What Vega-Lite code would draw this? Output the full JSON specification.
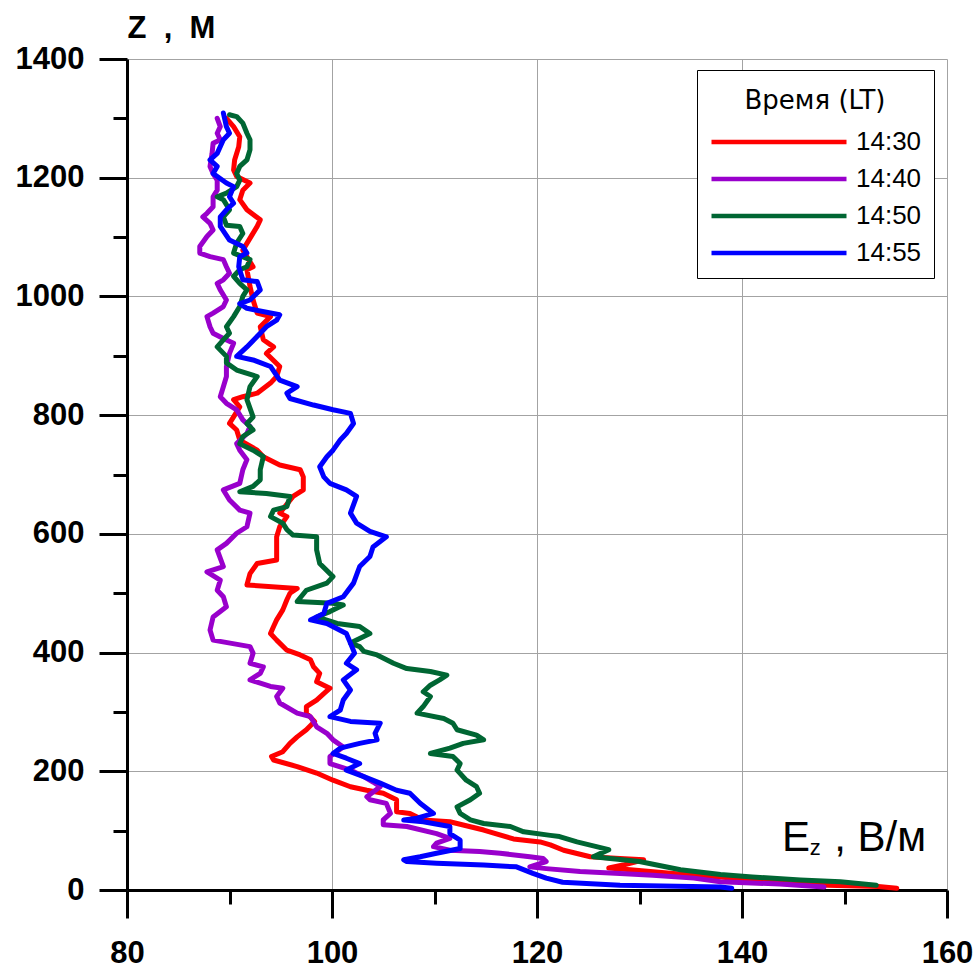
{
"$schema": "https://vega.github.io/schema/vega-lite/v6.json",
"width": 820,
"height": 831,
"autosize": {"type": "none"},
"padding": {"left": 127, "top": 59, "right": 31, "bottom": 79},
"background": "white",
"config": {"view": {"stroke": null}, "font": "Liberation Sans", "axis": {"tickCap": "butt"}},
"datasets": {
"profiles": [
{"t":"14:30","e":155.1,"z":3},{"t":"14:30","e":153.3,"z":6},{"t":"14:30","e":148.3,"z":8},{"t":"14:30","e":144.7,"z":11},{"t":"14:30","e":141.5,"z":16},{"t":"14:30","e":137.9,"z":22},{"t":"14:30","e":133.3,"z":28},{"t":"14:30","e":129.1,"z":34},{"t":"14:30","e":127.0,"z":37},{"t":"14:30","e":128.4,"z":42},{"t":"14:30","e":130.4,"z":51},{"t":"14:30","e":128.1,"z":53},{"t":"14:30","e":125.2,"z":56},{"t":"14:30","e":122.6,"z":67},{"t":"14:30","e":121.3,"z":76},{"t":"14:30","e":120.3,"z":81},{"t":"14:30","e":117.7,"z":86},{"t":"14:30","e":114.8,"z":101},{"t":"14:30","e":111.5,"z":115},{"t":"14:30","e":108.9,"z":118},{"t":"14:30","e":107.6,"z":129},{"t":"14:30","e":106.3,"z":132},{"t":"14:30","e":106.3,"z":152},{"t":"14:30","e":105.0,"z":163},{"t":"14:30","e":103.4,"z":168},{"t":"14:30","e":101.8,"z":174},{"t":"14:30","e":100.1,"z":185},{"t":"14:30","e":98.5,"z":197},{"t":"14:30","e":96.6,"z":208},{"t":"14:30","e":94.3,"z":219},{"t":"14:30","e":94.1,"z":225},{"t":"14:30","e":95.2,"z":233},{"t":"14:30","e":95.9,"z":247},{"t":"14:30","e":96.6,"z":258},{"t":"14:30","e":97.5,"z":270},{"t":"14:30","e":98.3,"z":284},{"t":"14:30","e":97.5,"z":298},{"t":"14:30","e":97.5,"z":309},{"t":"14:30","e":98.5,"z":320},{"t":"14:30","e":99.2,"z":331},{"t":"14:30","e":99.8,"z":340},{"t":"14:30","e":98.5,"z":351},{"t":"14:30","e":98.8,"z":365},{"t":"14:30","e":98.2,"z":376},{"t":"14:30","e":97.9,"z":388},{"t":"14:30","e":96.9,"z":396},{"t":"14:30","e":95.6,"z":404},{"t":"14:30","e":94.6,"z":421},{"t":"14:30","e":94.0,"z":432},{"t":"14:30","e":94.3,"z":444},{"t":"14:30","e":94.6,"z":455},{"t":"14:30","e":95.2,"z":472},{"t":"14:30","e":95.6,"z":489},{"t":"14:30","e":95.9,"z":500},{"t":"14:30","e":96.6,"z":508},{"t":"14:30","e":91.7,"z":514},{"t":"14:30","e":92.0,"z":533},{"t":"14:30","e":92.7,"z":550},{"t":"14:30","e":94.6,"z":556},{"t":"14:30","e":94.6,"z":595},{"t":"14:30","e":94.9,"z":612},{"t":"14:30","e":95.6,"z":629},{"t":"14:30","e":94.9,"z":635},{"t":"14:30","e":96.2,"z":663},{"t":"14:30","e":97.2,"z":674},{"t":"14:30","e":97.2,"z":696},{"t":"14:30","e":96.9,"z":708},{"t":"14:30","e":94.9,"z":716},{"t":"14:30","e":93.3,"z":730},{"t":"14:30","e":92.7,"z":741},{"t":"14:30","e":91.0,"z":758},{"t":"14:30","e":90.7,"z":775},{"t":"14:30","e":90.0,"z":786},{"t":"14:30","e":90.4,"z":797},{"t":"14:30","e":91.0,"z":814},{"t":"14:30","e":90.4,"z":826},{"t":"14:30","e":91.3,"z":831},{"t":"14:30","e":92.7,"z":837},{"t":"14:30","e":94.0,"z":854},{"t":"14:30","e":94.6,"z":865},{"t":"14:30","e":94.9,"z":882},{"t":"14:30","e":93.6,"z":904},{"t":"14:30","e":94.3,"z":915},{"t":"14:30","e":93.3,"z":927},{"t":"14:30","e":93.0,"z":949},{"t":"14:30","e":94.0,"z":966},{"t":"14:30","e":92.7,"z":972},{"t":"14:30","e":92.3,"z":994},{"t":"14:30","e":92.0,"z":1017},{"t":"14:30","e":91.7,"z":1045},{"t":"14:30","e":92.3,"z":1050},{"t":"14:30","e":91.3,"z":1078},{"t":"14:30","e":92.7,"z":1118},{"t":"14:30","e":93.0,"z":1129},{"t":"14:30","e":91.7,"z":1146},{"t":"14:30","e":91.0,"z":1163},{"t":"14:30","e":91.3,"z":1179},{"t":"14:30","e":92.0,"z":1191},{"t":"14:30","e":90.7,"z":1202},{"t":"14:30","e":90.4,"z":1213},{"t":"14:30","e":90.5,"z":1230},{"t":"14:30","e":90.9,"z":1252},{"t":"14:30","e":91.0,"z":1269},{"t":"14:30","e":90.4,"z":1286},{"t":"14:30","e":89.7,"z":1300},
{"t":"14:40","e":148.0,"z":5},{"t":"14:40","e":143.7,"z":10},{"t":"14:40","e":137.9,"z":14},{"t":"14:40","e":135.3,"z":20},{"t":"14:40","e":131.3,"z":25},{"t":"14:40","e":128.1,"z":28},{"t":"14:40","e":124.2,"z":31},{"t":"14:40","e":120.9,"z":36},{"t":"14:40","e":119.3,"z":39},{"t":"14:40","e":120.9,"z":48},{"t":"14:40","e":120.6,"z":53},{"t":"14:40","e":119.3,"z":56},{"t":"14:40","e":116.4,"z":62},{"t":"14:40","e":114.4,"z":65},{"t":"14:40","e":111.5,"z":67},{"t":"14:40","e":109.9,"z":73},{"t":"14:40","e":110.2,"z":79},{"t":"14:40","e":111.5,"z":87},{"t":"14:40","e":110.2,"z":95},{"t":"14:40","e":107.3,"z":107},{"t":"14:40","e":105.0,"z":110},{"t":"14:40","e":105.0,"z":118},{"t":"14:40","e":105.7,"z":129},{"t":"14:40","e":105.3,"z":146},{"t":"14:40","e":103.7,"z":152},{"t":"14:40","e":103.4,"z":157},{"t":"14:40","e":104.7,"z":174},{"t":"14:40","e":104.0,"z":182},{"t":"14:40","e":103.1,"z":191},{"t":"14:40","e":101.8,"z":202},{"t":"14:40","e":99.8,"z":213},{"t":"14:40","e":99.8,"z":225},{"t":"14:40","e":101.1,"z":241},{"t":"14:40","e":100.1,"z":253},{"t":"14:40","e":99.5,"z":264},{"t":"14:40","e":98.5,"z":275},{"t":"14:40","e":97.9,"z":292},{"t":"14:40","e":96.6,"z":298},{"t":"14:40","e":94.9,"z":315},{"t":"14:40","e":94.6,"z":326},{"t":"14:40","e":95.2,"z":340},{"t":"14:40","e":94.0,"z":343},{"t":"14:40","e":92.0,"z":354},{"t":"14:40","e":93.0,"z":365},{"t":"14:40","e":93.3,"z":376},{"t":"14:40","e":92.0,"z":382},{"t":"14:40","e":92.3,"z":399},{"t":"14:40","e":92.0,"z":410},{"t":"14:40","e":88.4,"z":421},{"t":"14:40","e":88.1,"z":438},{"t":"14:40","e":88.4,"z":460},{"t":"14:40","e":89.7,"z":477},{"t":"14:40","e":89.4,"z":494},{"t":"14:40","e":88.8,"z":505},{"t":"14:40","e":89.1,"z":522},{"t":"14:40","e":87.8,"z":536},{"t":"14:40","e":89.4,"z":545},{"t":"14:40","e":88.8,"z":573},{"t":"14:40","e":89.7,"z":584},{"t":"14:40","e":90.7,"z":601},{"t":"14:40","e":91.7,"z":612},{"t":"14:40","e":92.0,"z":635},{"t":"14:40","e":91.0,"z":640},{"t":"14:40","e":90.0,"z":657},{"t":"14:40","e":89.4,"z":674},{"t":"14:40","e":91.0,"z":685},{"t":"14:40","e":91.3,"z":708},{"t":"14:40","e":91.7,"z":725},{"t":"14:40","e":91.0,"z":741},{"t":"14:40","e":90.7,"z":752},{"t":"14:40","e":91.7,"z":769},{"t":"14:40","e":92.0,"z":781},{"t":"14:40","e":91.3,"z":792},{"t":"14:40","e":90.7,"z":809},{"t":"14:40","e":89.7,"z":820},{"t":"14:40","e":89.1,"z":831},{"t":"14:40","e":89.4,"z":848},{"t":"14:40","e":89.7,"z":865},{"t":"14:40","e":89.7,"z":882},{"t":"14:40","e":90.0,"z":904},{"t":"14:40","e":90.4,"z":921},{"t":"14:40","e":89.4,"z":929},{"t":"14:40","e":88.4,"z":938},{"t":"14:40","e":88.1,"z":949},{"t":"14:40","e":87.8,"z":966},{"t":"14:40","e":88.4,"z":972},{"t":"14:40","e":89.4,"z":983},{"t":"14:40","e":89.7,"z":994},{"t":"14:40","e":89.1,"z":1011},{"t":"14:40","e":88.8,"z":1022},{"t":"14:40","e":89.4,"z":1028},{"t":"14:40","e":90.0,"z":1039},{"t":"14:40","e":89.7,"z":1050},{"t":"14:40","e":89.4,"z":1062},{"t":"14:40","e":88.1,"z":1067},{"t":"14:40","e":87.1,"z":1073},{"t":"14:40","e":87.1,"z":1084},{"t":"14:40","e":87.8,"z":1101},{"t":"14:40","e":88.4,"z":1112},{"t":"14:40","e":88.1,"z":1123},{"t":"14:40","e":87.4,"z":1134},{"t":"14:40","e":87.8,"z":1140},{"t":"14:40","e":88.4,"z":1151},{"t":"14:40","e":88.4,"z":1168},{"t":"14:40","e":88.8,"z":1179},{"t":"14:40","e":88.8,"z":1196},{"t":"14:40","e":88.4,"z":1207},{"t":"14:40","e":88.1,"z":1219},{"t":"14:40","e":88.3,"z":1241},{"t":"14:40","e":88.4,"z":1258},{"t":"14:40","e":89.1,"z":1264},{"t":"14:40","e":88.8,"z":1275},{"t":"14:40","e":89.1,"z":1286},{"t":"14:40","e":88.8,"z":1300},
{"t":"14:50","e":153.1,"z":8},{"t":"14:50","e":149.6,"z":14},{"t":"14:50","e":145.7,"z":17},{"t":"14:50","e":141.0,"z":22},{"t":"14:50","e":137.9,"z":26},{"t":"14:50","e":134.0,"z":34},{"t":"14:50","e":130.0,"z":48},{"t":"14:50","e":125.5,"z":56},{"t":"14:50","e":127.0,"z":68},{"t":"14:50","e":123.9,"z":81},{"t":"14:50","e":122.2,"z":90},{"t":"14:50","e":121.3,"z":92},{"t":"14:50","e":118.7,"z":98},{"t":"14:50","e":117.4,"z":107},{"t":"14:50","e":114.8,"z":112},{"t":"14:50","e":113.5,"z":118},{"t":"14:50","e":112.5,"z":129},{"t":"14:50","e":112.2,"z":140},{"t":"14:50","e":113.5,"z":152},{"t":"14:50","e":114.4,"z":163},{"t":"14:50","e":114.1,"z":174},{"t":"14:50","e":113.1,"z":185},{"t":"14:50","e":112.2,"z":202},{"t":"14:50","e":112.5,"z":213},{"t":"14:50","e":111.8,"z":225},{"t":"14:50","e":109.6,"z":230},{"t":"14:50","e":111.5,"z":239},{"t":"14:50","e":112.8,"z":247},{"t":"14:50","e":114.8,"z":253},{"t":"14:50","e":114.1,"z":261},{"t":"14:50","e":112.2,"z":270},{"t":"14:50","e":111.8,"z":281},{"t":"14:50","e":110.9,"z":289},{"t":"14:50","e":108.3,"z":298},{"t":"14:50","e":108.9,"z":309},{"t":"14:50","e":109.6,"z":326},{"t":"14:50","e":108.9,"z":334},{"t":"14:50","e":109.6,"z":345},{"t":"14:50","e":110.5,"z":354},{"t":"14:50","e":111.2,"z":362},{"t":"14:50","e":109.6,"z":368},{"t":"14:50","e":107.3,"z":373},{"t":"14:50","e":106.0,"z":382},{"t":"14:50","e":104.4,"z":396},{"t":"14:50","e":103.1,"z":402},{"t":"14:50","e":102.7,"z":410},{"t":"14:50","e":101.8,"z":416},{"t":"14:50","e":103.1,"z":427},{"t":"14:50","e":103.7,"z":432},{"t":"14:50","e":102.7,"z":444},{"t":"14:50","e":100.5,"z":449},{"t":"14:50","e":98.5,"z":460},{"t":"14:50","e":99.8,"z":469},{"t":"14:50","e":101.1,"z":480},{"t":"14:50","e":100.1,"z":483},{"t":"14:50","e":96.6,"z":486},{"t":"14:50","e":97.5,"z":505},{"t":"14:50","e":99.5,"z":517},{"t":"14:50","e":100.1,"z":528},{"t":"14:50","e":98.8,"z":550},{"t":"14:50","e":98.5,"z":573},{"t":"14:50","e":98.5,"z":595},{"t":"14:50","e":96.2,"z":598},{"t":"14:50","e":95.6,"z":607},{"t":"14:50","e":95.2,"z":618},{"t":"14:50","e":94.0,"z":629},{"t":"14:50","e":94.3,"z":640},{"t":"14:50","e":95.6,"z":646},{"t":"14:50","e":95.9,"z":663},{"t":"14:50","e":93.6,"z":668},{"t":"14:50","e":91.0,"z":671},{"t":"14:50","e":92.3,"z":680},{"t":"14:50","e":93.0,"z":691},{"t":"14:50","e":93.0,"z":708},{"t":"14:50","e":93.3,"z":730},{"t":"14:50","e":92.3,"z":741},{"t":"14:50","e":91.0,"z":752},{"t":"14:50","e":91.3,"z":764},{"t":"14:50","e":92.3,"z":775},{"t":"14:50","e":91.7,"z":786},{"t":"14:50","e":92.3,"z":797},{"t":"14:50","e":91.7,"z":826},{"t":"14:50","e":92.0,"z":848},{"t":"14:50","e":92.7,"z":865},{"t":"14:50","e":90.7,"z":876},{"t":"14:50","e":89.7,"z":888},{"t":"14:50","e":89.7,"z":899},{"t":"14:50","e":88.8,"z":915},{"t":"14:50","e":89.4,"z":927},{"t":"14:50","e":90.0,"z":938},{"t":"14:50","e":89.7,"z":949},{"t":"14:50","e":90.4,"z":966},{"t":"14:50","e":91.0,"z":983},{"t":"14:50","e":91.3,"z":1000},{"t":"14:50","e":91.7,"z":1011},{"t":"14:50","e":91.0,"z":1022},{"t":"14:50","e":90.4,"z":1034},{"t":"14:50","e":91.0,"z":1045},{"t":"14:50","e":91.7,"z":1050},{"t":"14:50","e":92.0,"z":1062},{"t":"14:50","e":90.4,"z":1073},{"t":"14:50","e":90.7,"z":1090},{"t":"14:50","e":91.3,"z":1106},{"t":"14:50","e":91.0,"z":1118},{"t":"14:50","e":89.7,"z":1120},{"t":"14:50","e":89.4,"z":1134},{"t":"14:50","e":90.0,"z":1146},{"t":"14:50","e":89.4,"z":1163},{"t":"14:50","e":88.8,"z":1168},{"t":"14:50","e":89.7,"z":1174},{"t":"14:50","e":90.7,"z":1185},{"t":"14:50","e":91.0,"z":1196},{"t":"14:50","e":90.7,"z":1207},{"t":"14:50","e":91.0,"z":1219},{"t":"14:50","e":91.7,"z":1230},{"t":"14:50","e":92.0,"z":1247},{"t":"14:50","e":92.0,"z":1264},{"t":"14:50","e":91.7,"z":1275},{"t":"14:50","e":91.3,"z":1292},{"t":"14:50","e":90.7,"z":1303},{"t":"14:50","e":90.0,"z":1306},
{"t":"14:55","e":139.0,"z":3},{"t":"14:55","e":137.9,"z":5},{"t":"14:55","e":128.1,"z":8},{"t":"14:55","e":122.5,"z":13},{"t":"14:55","e":120.9,"z":20},{"t":"14:55","e":119.6,"z":28},{"t":"14:55","e":118.0,"z":39},{"t":"14:55","e":114.8,"z":42},{"t":"14:55","e":110.2,"z":45},{"t":"14:55","e":107.3,"z":48},{"t":"14:55","e":107.0,"z":51},{"t":"14:55","e":108.6,"z":56},{"t":"14:55","e":110.2,"z":62},{"t":"14:55","e":112.5,"z":70},{"t":"14:55","e":112.5,"z":84},{"t":"14:55","e":111.5,"z":95},{"t":"14:55","e":111.5,"z":107},{"t":"14:55","e":108.9,"z":115},{"t":"14:55","e":107.0,"z":118},{"t":"14:55","e":108.3,"z":121},{"t":"14:55","e":109.9,"z":129},{"t":"14:55","e":108.6,"z":146},{"t":"14:55","e":107.6,"z":163},{"t":"14:55","e":106.3,"z":168},{"t":"14:55","e":104.7,"z":180},{"t":"14:55","e":103.1,"z":191},{"t":"14:55","e":101.4,"z":202},{"t":"14:55","e":102.7,"z":213},{"t":"14:55","e":101.4,"z":222},{"t":"14:55","e":100.1,"z":230},{"t":"14:55","e":100.8,"z":239},{"t":"14:55","e":102.7,"z":247},{"t":"14:55","e":104.4,"z":253},{"t":"14:55","e":104.2,"z":264},{"t":"14:55","e":104.7,"z":281},{"t":"14:55","e":101.8,"z":284},{"t":"14:55","e":99.8,"z":292},{"t":"14:55","e":100.8,"z":303},{"t":"14:55","e":101.1,"z":320},{"t":"14:55","e":101.8,"z":337},{"t":"14:55","e":101.1,"z":354},{"t":"14:55","e":102.4,"z":371},{"t":"14:55","e":101.4,"z":382},{"t":"14:55","e":102.2,"z":399},{"t":"14:55","e":101.8,"z":416},{"t":"14:55","e":101.4,"z":432},{"t":"14:55","e":99.5,"z":449},{"t":"14:55","e":97.9,"z":455},{"t":"14:55","e":99.2,"z":466},{"t":"14:55","e":99.5,"z":483},{"t":"14:55","e":101.1,"z":494},{"t":"14:55","e":102.1,"z":517},{"t":"14:55","e":102.7,"z":545},{"t":"14:55","e":103.7,"z":562},{"t":"14:55","e":104.0,"z":578},{"t":"14:55","e":105.3,"z":595},{"t":"14:55","e":103.7,"z":604},{"t":"14:55","e":102.4,"z":618},{"t":"14:55","e":101.8,"z":635},{"t":"14:55","e":102.4,"z":663},{"t":"14:55","e":101.4,"z":674},{"t":"14:55","e":99.8,"z":685},{"t":"14:55","e":99.2,"z":696},{"t":"14:55","e":98.8,"z":713},{"t":"14:55","e":99.5,"z":730},{"t":"14:55","e":100.1,"z":741},{"t":"14:55","e":100.8,"z":758},{"t":"14:55","e":101.4,"z":769},{"t":"14:55","e":102.1,"z":786},{"t":"14:55","e":101.8,"z":803},{"t":"14:55","e":100.1,"z":809},{"t":"14:55","e":98.2,"z":817},{"t":"14:55","e":95.9,"z":828},{"t":"14:55","e":95.6,"z":837},{"t":"14:55","e":96.6,"z":848},{"t":"14:55","e":94.9,"z":859},{"t":"14:55","e":94.0,"z":882},{"t":"14:55","e":92.3,"z":893},{"t":"14:55","e":90.7,"z":899},{"t":"14:55","e":91.7,"z":915},{"t":"14:55","e":93.0,"z":938},{"t":"14:55","e":93.6,"z":949},{"t":"14:55","e":94.6,"z":960},{"t":"14:55","e":94.9,"z":969},{"t":"14:55","e":94.0,"z":972},{"t":"14:55","e":91.7,"z":980},{"t":"14:55","e":91.0,"z":988},{"t":"14:55","e":92.0,"z":994},{"t":"14:55","e":93.0,"z":1011},{"t":"14:55","e":92.7,"z":1025},{"t":"14:55","e":91.3,"z":1028},{"t":"14:55","e":90.9,"z":1050},{"t":"14:55","e":91.0,"z":1067},{"t":"14:55","e":91.7,"z":1073},{"t":"14:55","e":91.3,"z":1084},{"t":"14:55","e":90.0,"z":1095},{"t":"14:55","e":89.1,"z":1118},{"t":"14:55","e":89.1,"z":1134},{"t":"14:55","e":89.7,"z":1146},{"t":"14:55","e":90.4,"z":1157},{"t":"14:55","e":90.0,"z":1168},{"t":"14:55","e":90.4,"z":1185},{"t":"14:55","e":89.7,"z":1191},{"t":"14:55","e":88.4,"z":1207},{"t":"14:55","e":88.8,"z":1219},{"t":"14:55","e":88.1,"z":1230},{"t":"14:55","e":88.8,"z":1241},{"t":"14:55","e":89.4,"z":1264},{"t":"14:55","e":90.0,"z":1275},{"t":"14:55","e":89.7,"z":1286},{"t":"14:55","e":89.4,"z":1309}
],
"labels": [{"part": "E"}]
},
"layer": [
{
"data": {"name": "profiles"},
"mark": {"type": "line", "strokeWidth": 5, "strokeJoin": "round", "strokeCap": "round"},
"encoding": {
"x": {"field": "e", "type": "quantitative", "scale": {"domain": [80, 160], "nice": false, "zero": false},
 "axis": {"orient": "bottom", "values": [80, 100, 120, 140, 160], "format": "d", "tickSize": 28, "tickWidth": 3, "tickColor": "black", "domainColor": "black", "domainWidth": 3, "labelFont": "Liberation Sans", "labelFontSize": 31, "labelFontWeight": "bold", "labelColor": "black", "labelPadding": 20, "labelFlush": false, "labelOverlap": false, "grid": true, "gridColor": "#a3a3a3", "gridWidth": 1, "title": null}},
"y": {"field": "z", "type": "quantitative", "scale": {"domain": [0, 1400], "nice": false, "zero": true},
 "axis": {"orient": "left", "values": [0, 200, 400, 600, 800, 1000, 1200, 1400], "format": "d", "tickSize": 28, "tickWidth": 3, "tickColor": "black", "domainColor": "black", "domainWidth": 3, "labelFont": "Liberation Sans", "labelFontSize": 31, "labelFontWeight": "bold", "labelColor": "black", "labelPadding": 15, "labelFlush": false, "labelOverlap": false, "grid": true, "gridColor": "#a3a3a3", "gridWidth": 1,
  "title": "Z\u00a0\u00a0,\u00a0\u00a0М", "titleAngle": 0, "titleX": 0, "titleY": -22, "titleAlign": "left", "titleBaseline": "alphabetic", "titleFont": "Liberation Sans", "titleFontSize": 31, "titleFontWeight": "bold", "titleColor": "black"}},
"color": {"field": "t", "type": "nominal",
 "scale": {"domain": ["14:30", "14:40", "14:50", "14:55"], "range": ["#ff0000", "#9900cc", "#006633", "#0000ff"]},
 "legend": {"orient": "none", "legendX": 570, "legendY": 11, "title": "Время (LT)", "titleFont": "DejaVu Sans", "titleFontSize": 26, "titleFontWeight": "normal", "titleColor": "black", "titleAnchor": "middle", "titleBaseline": "line-top", "titleLineHeight": 39, "titlePadding": 18,
  "labelFont": "Liberation Sans", "labelFontSize": 26, "labelColor": "black", "labelOffset": 61,
  "symbolType": "M-5,0H5", "symbolSize": 729, "symbolOffset": 54, "symbolStrokeWidth": 4.5, "rowPadding": 8,
  "padding": 12, "strokeColor": "black", "fillColor": "white", "cornerRadius": 0}},
"order": {"field": "z", "type": "quantitative"}
}
},
{
"data": {"name": "profiles"},
"mark": {"type": "point", "opacity": 0},
"encoding": {
"x": {"field": "e", "type": "quantitative", "axis": {"orient": "bottom", "values": [90, 110, 130, 150], "tickSize": 14, "tickWidth": 3, "tickColor": "black", "domain": false, "labels": false, "grid": false, "title": null}},
"y": {"field": "z", "type": "quantitative", "axis": {"orient": "left", "values": [100, 300, 500, 700, 900, 1100, 1300], "tickSize": 14, "tickWidth": 3, "tickColor": "black", "domain": false, "labels": false, "grid": false, "title": null}}
}
},
{
"data": {"name": "labels"},
"mark": {"type": "text", "text": "E", "font": "Liberation Sans", "fontSize": 42, "align": "left", "baseline": "alphabetic", "color": "black"},
"encoding": {"x": {"datum": 143.9, "type": "quantitative", "axis": null}, "y": {"datum": 66, "type": "quantitative", "axis": null}}
},
{
"data": {"name": "labels"},
"mark": {"type": "text", "text": "z", "font": "Liberation Sans", "fontSize": 22, "align": "left", "baseline": "alphabetic", "color": "black"},
"encoding": {"x": {"datum": 146.6, "type": "quantitative", "axis": null}, "y": {"datum": 59, "type": "quantitative", "axis": null}}
},
{
"data": {"name": "labels"},
"mark": {"type": "text", "text": ", В/м", "font": "Liberation Sans", "fontSize": 42, "align": "left", "baseline": "alphabetic", "color": "black"},
"encoding": {"x": {"datum": 149.0, "type": "quantitative", "axis": null}, "y": {"datum": 66, "type": "quantitative", "axis": null}}
}
],
"resolve": {"axis": {"x": "independent", "y": "independent"}}
}
